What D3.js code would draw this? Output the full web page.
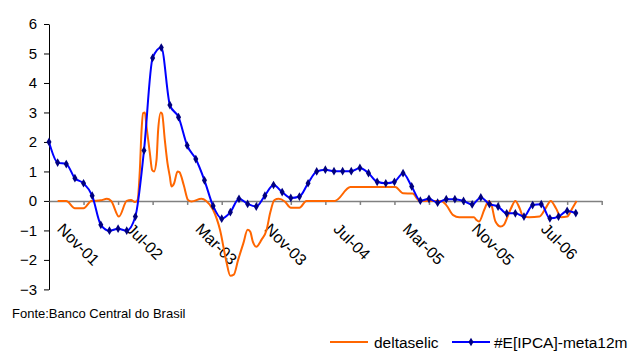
<!DOCTYPE html>
<html>
<head>
<meta charset="utf-8">
<script src="https://cdn.jsdelivr.net/npm/d3@7"></script>
<style>
  body { margin: 0; background: #fff; }
  svg text { font-family: "Liberation Sans", Arial, sans-serif; fill: #000; }
</style>
</head>
<body>
<div id="chart"></div>
<script>
// months on the category axis: Sep-01 .. Jan-07
const months = d3.timeMonth.range(new Date(2001, 8, 1), new Date(2007, 1, 1)).map(d3.timeFormat("%b-%y"));
const xLabels = ["Nov-01", "Jul-02", "Mar-03", "Nov-03", "Jul-04", "Mar-05", "Nov-05", "Jul-06"];
const yTicks = [-3, -2, -1, 0, 1, 2, 3, 4, 5, 6];

// #E[IPCA]-meta12m, one value per month from Sep-01
const ipca = [2.0, 1.30, 1.25, 0.77, 0.60, 0.18, -0.81, -1.01, -0.94, -1.01,
  -0.53, 1.71, 4.85, 5.20, 3.25, 2.84, 1.88, 1.42, 0.70, -0.17,
  -0.60, -0.38, 0.07, -0.10, -0.19, 0.18, 0.54, 0.30, 0.10, 0.15,
  0.60, 1.0, 1.06, 1.01, 1.01, 1.01, 1.12, 0.94, 0.65, 0.60,
  0.65, 0.94, 0.49, 0.01, 0.07, -0.06, 0.06, 0.06, 0.0, -0.12,
  0.12, -0.11, -0.19, -0.42, -0.42, -0.53, -0.14, -0.11, -0.59, -0.53,
  -0.34, -0.41];

// deltaselic, sampled at month offsets from Sep-01
const selicT = [1, 2, 3, 4, 4.9, 6, 6.7, 7.2, 8.1, 9, 9.5, 9.95, 10.25, 10.52, 10.72, 10.9, 11.1,
  11.29, 11.68, 11.94, 12.17, 12.45, 12.64, 12.95, 13.1, 13.41, 13.72, 13.99, 14.18, 14.49, 14.88,
  15.1, 15.6, 16.1, 16.5, 17.65, 18.2, 19, 19.8, 20.5, 21, 21.4, 21.9, 22.5, 23, 23.3, 23.6, 24,
  24.6, 25.2, 25.6, 26.1, 26.6, 27.3, 28, 29, 29.8, 33.1, 34.9, 40.1, 41, 42.1, 42.9, 45.4, 46,
  46.8, 47.5, 49.2, 49.5, 49.8, 50.4, 50.9, 51.2, 51.7, 52.3, 52.7, 53.1, 53.5, 54, 54.5, 54.9,
  55.6, 56.8, 57.5, 58.1, 58.7, 59.3, 60, 60.6, 61.1];
const selicV = [0, 0, -0.25, -0.25, 0, 0.02, 0.07, 0, -0.53, 0, 0.03, -0.04, 0.03, 1.05, 2.41, 2.98, 3.0,
  2.52, 1.62, 1.05, 1.0, 1.39, 2.41, 3.0, 2.95, 2.07, 1.28, 0.83, 0.49, 0.6, 1.0,
  0.98, 0.54, 0.03, -0.02, 0.07, 0, -0.3, -0.98, -2.0, -2.54, -2.5, -2.0, -1.44, -0.98, -1.04, -1.38, -1.55,
  -1.32, -0.98, -0.42, 0.03, 0.07, -0.02, -0.23, -0.23, 0, 0, 0.47, 0.47, 0.26, 0.25, 0, 0, -0.14,
  -0.48, -0.55, -0.55, -0.65, -0.70, -0.3, 0, -0.1, -0.70, -0.87, -0.8, -0.53, -0.25, 0, -0.25, -0.53,
  -0.55, -0.53, -0.25, 0, -0.25, -0.55, -0.53, -0.25, 0];

const width = 635, height = 351;
const orange = "#ff6600", blue = "#0000ff", navy = "#000080";

const svg = d3.select("#chart").append("svg")
  .attr("width", width)
  .attr("height", height);

const x = d3.scaleLinear().domain([0, months.length - 1]).range([49, 601.7]);
const y = d3.scaleLinear().domain([-3, 6]).range([289.4, 24]);

// y axis
const yAxis = svg.append("g")
  .attr("transform", `translate(${x(0)},0)`)
  .call(d3.axisLeft(y).tickValues(yTicks).tickSize(5).tickSizeOuter(0).tickPadding(7));
yAxis.selectAll("text").style("font-size", "15px").attr("fill", "#000");
yAxis.selectAll("line, path").attr("stroke", "#000");

// x axis through zero, ticks every 4 months
const xAxis = svg.append("g")
  .attr("transform", `translate(0,${y(0)})`)
  .call(d3.axisBottom(x).tickValues(d3.range(4, months.length, 4)).tickSize(4).tickSizeOuter(0).tickFormat(""));
xAxis.selectAll("line, path").attr("stroke", "#808080").attr("stroke-width", 1.5);

svg.append("g").selectAll("text")
  .data(xLabels)
  .enter()
  .append("text")
  .attr("transform", d => `translate(${x(months.indexOf(d)) - 10},230) rotate(45)`)
  .style("font-size", "16px")
  .text(d => d);

// deltaselic
const selic = selicT.map((t, i) => [t, selicV[i]]);
svg.append("path")
  .datum(selic)
  .attr("fill", "none")
  .attr("stroke", orange)
  .attr("stroke-width", 2)
  .attr("d", d3.line().x(d => x(d[0])).y(d => y(d[1])).curve(d3.curveMonotoneX));

// expectations minus target
svg.append("path")
  .datum(ipca)
  .attr("fill", "none")
  .attr("stroke", blue)
  .attr("stroke-width", 2)
  .attr("d", d3.line().x((d, i) => x(i)).y(d => y(d)).curve(d3.curveMonotoneX));

const marker = d3.symbol().type(d3.symbolDiamond).size(22);
svg.append("g").selectAll("path")
  .data(ipca)
  .enter()
  .append("path")
  .attr("transform", (d, i) => `translate(${x(i)},${y(d)})`)
  .attr("d", marker)
  .attr("fill", navy);

// source note
svg.append("text")
  .attr("x", 12)
  .attr("y", 318)
  .style("font-size", "13px")
  .text("Fonte:Banco Central do Brasil");

// legend
const legend = svg.append("g").attr("transform", "translate(0,342)");
legend.append("line").attr("x1", 330).attr("x2", 368).attr("stroke", orange).attr("stroke-width", 2);
legend.append("text").attr("x", 374).attr("y", 5.5).style("font-size", "15.5px").text("deltaselic");
legend.append("line").attr("x1", 452).attr("x2", 490).attr("stroke", blue).attr("stroke-width", 2);
legend.append("path").attr("transform", "translate(471,0)").attr("d", marker).attr("fill", navy);
legend.append("text").attr("x", 494).attr("y", 5.5).style("font-size", "15.5px").text("#E[IPCA]-meta12m");
</script>
</body>
</html>
